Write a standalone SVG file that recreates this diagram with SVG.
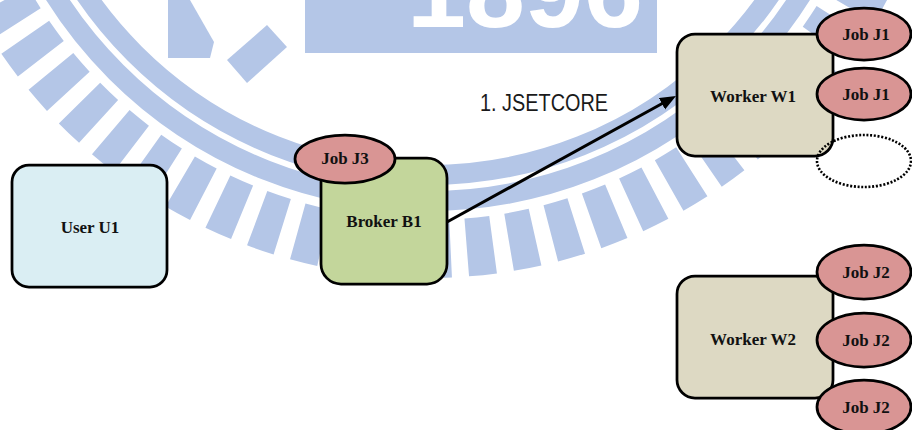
<svg xmlns="http://www.w3.org/2000/svg" width="912" height="430" viewBox="0 0 912 430">
  <style>
    .wm { fill: #B4C6E7; }
    .wm-ring { fill: none; stroke: #B4C6E7; }
    .box { stroke: #000; stroke-width: 2.75; }
    .user { fill: #DAEEF3; }
    .broker { fill: #C3D69B; }
    .worker { fill: #DDD9C3; }
    .job { fill: #D99594; stroke: #000; stroke-width: 2.75; }
    .slot { fill: none; stroke: #000; stroke-width: 2.6; stroke-dasharray: 2 1.7; }
    .lbl { font-family: 'Liberation Serif', 'Times New Roman', serif; font-weight: bold; font-size: 17px; fill: #111; text-anchor: middle; }
    .msg { font-family: 'Liberation Sans', Arial, sans-serif; font-size: 24px; fill: #1a1a1a; }
    .conn { stroke: #000; stroke-width: 3; fill: none; }
  </style>
  <defs>
    <marker id="arrow" markerUnits="userSpaceOnUse" markerWidth="18" markerHeight="14" refX="6" refY="6.5" orient="auto">
      <path d="M0,0 L16,6.5 L0,13 z" fill="#000"/>
    </marker>
  </defs>

  <!-- background emblem: striped outer ring, double band, top plate with the year -->
  <g id="emblem">
    <circle class="wm-ring" cx="428" cy="-240" r="489" stroke-width="58" pathLength="360" stroke-dasharray="3.1 1.9" stroke-dashoffset="-2.35"/>
    <circle class="wm-ring" cx="428" cy="-240" r="441" stroke-width="20"/>
    <circle class="wm-ring" cx="428" cy="-240" r="415" stroke-width="20"/>
    <polygon class="wm" points="168,0 190,0 214,42 210,58 168,58"/>
    <polygon class="wm" points="227,60 267,25 287,47 247,83"/>
    <rect class="wm" x="305" y="-10" width="352" height="63"/>
    <text x="525" y="27" font-family="'Liberation Sans', Arial, sans-serif" font-weight="bold" font-size="106" fill="#fff" text-anchor="middle">1896</text>
  </g>

  <!-- connectors -->
  <g id="connectors">
    <line class="conn" x1="447" y1="222" x2="667.2" y2="100.8" marker-end="url(#arrow)"/>
    <text class="msg" x="480" y="111" textLength="128" lengthAdjust="spacingAndGlyphs">1. JSETCORE</text>
  </g>

  <g id="user-u1">
    <rect class="box user" x="12" y="165" width="155" height="122" rx="17"/>
    <text class="lbl" x="90" y="233">User U1</text>
  </g>

  <g id="broker-b1">
    <rect class="box broker" x="321" y="158" width="126" height="126" rx="20"/>
    <text class="lbl" x="384" y="227">Broker B1</text>
    <g id="job-j3">
      <ellipse class="job" cx="345" cy="159" rx="50" ry="24"/>
      <text class="lbl" x="345" y="164">Job J3</text>
    </g>
  </g>

  <g id="worker-w1">
    <rect class="box worker" x="677" y="34" width="156" height="122" rx="18"/>
    <text class="lbl" x="753" y="102">Worker W1</text>
    <g id="w1-job-1">
      <ellipse class="job" cx="864" cy="34" rx="47" ry="26"/>
      <text class="lbl" x="866" y="40">Job J1</text>
    </g>
    <g id="w1-job-2">
      <ellipse class="job" cx="864" cy="94" rx="47" ry="26"/>
      <text class="lbl" x="866" y="100">Job J1</text>
    </g>
    <g id="w1-free-slot">
      <ellipse class="slot" cx="864" cy="161" rx="47" ry="26"/>
    </g>
  </g>

  <g id="worker-w2">
    <rect class="box worker" x="677" y="276" width="156" height="122" rx="18"/>
    <text class="lbl" x="753" y="345">Worker W2</text>
    <g id="w2-job-1">
      <ellipse class="job" cx="864" cy="272" rx="47" ry="27"/>
      <text class="lbl" x="866" y="278">Job J2</text>
    </g>
    <g id="w2-job-2">
      <ellipse class="job" cx="864" cy="340" rx="47" ry="27"/>
      <text class="lbl" x="866" y="346">Job J2</text>
    </g>
    <g id="w2-job-3">
      <ellipse class="job" cx="864" cy="407" rx="47" ry="27"/>
      <text class="lbl" x="866" y="413">Job J2</text>
    </g>
  </g>
</svg>
